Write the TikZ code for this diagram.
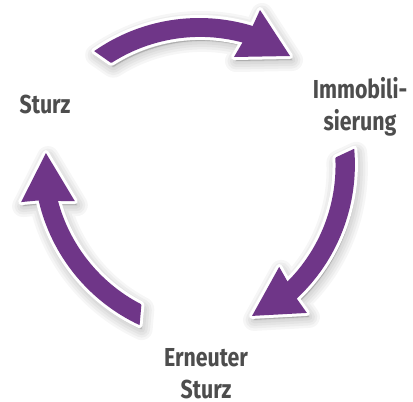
\documentclass[tikz,border=0pt]{standalone}
\usepackage{fontspec}
\setmainfont{Fira Sans}[FakeStretch=0.82]
\usetikzlibrary{calc}
\definecolor{arrowpurple}{RGB}{111,54,136}
\definecolor{labelgrey}{RGB}{77,77,77}
\newcommand\arrowoutline{(110.6,-62.6) -- (94.2,-51.1) arc[start angle=125, end angle=73, radius=183] -- (260,-10) -- (290,-56) -- (234,-57) -- (242.5,-42.5) arc[start angle=75, end angle=122.5, radius=164] -- cycle}
\begin{document}
\begin{tikzpicture}[x=1pt,y=1pt,
  lbl/.style={font=\fontsize{26}{32}\selectfont\bfseries, text=labelgrey, align=center, inner sep=0pt},
  arrowbody/.style={fill=arrowpurple},
  arrowrim/.style={draw=white, fill=white, line width=6pt, line join=round},
  arrowshade/.style={draw=black, fill=black, opacity=0.035, line join=round}]
\useasboundingbox (0,0) rectangle (413,-402);
\fill[white] (0,0) rectangle (413,-402);
\foreach \a in {0,-120,-240}{
  \begin{scope}[shift={(2,-4)}, rotate around={\a:(196,-175)}]
    \foreach \w in {22,17,12,7,2}{
      \filldraw[arrowshade, line width=\w pt] \arrowoutline;
    }
  \end{scope}
}
\foreach \a in {0,-120,-240}{
  \begin{scope}[rotate around={\a:(196,-175)}]
    \filldraw[arrowrim] \arrowoutline;
    \fill[arrowbody] \arrowoutline;
  \end{scope}
}
\node[lbl, anchor=base] (sturz) at (45,-113) {Sturz};
\node[lbl, anchor=base] (immo) at (360,-130) {Immobili-\\sierung};
\node[lbl, anchor=base] (erneut) at (206,-398) {Erneuter\\Sturz};
\end{tikzpicture}
\end{document}
